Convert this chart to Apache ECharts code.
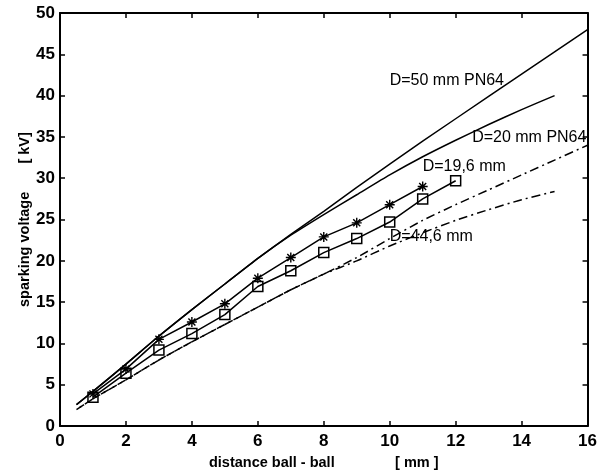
<!DOCTYPE html>
<html>
<head>
<meta charset="utf-8">
<script src="https://cdn.jsdelivr.net/npm/echarts@6/dist/echarts.min.js"></script>
<style>
  html, body { margin: 0; padding: 0; background: #fff; }
  #chart { width: 600px; height: 475px; }
</style>
</head>
<body>
<div id="chart"></div>
<script>
// Sparking voltage of ball gaps versus gap distance
const xTicks = [0, 2, 4, 6, 8, 10, 12, 14, 16];
const yTicks = [0, 5, 10, 15, 20, 25, 30, 35, 40, 45, 50];

// Standard curves (PN64)
const pnDist = [0.5, 1, 2, 3, 4, 5, 6, 7, 8, 9, 10, 11, 12, 13, 14, 15, 16];
const d50 = [2.6, 4.2, 7.5, 10.9, 14.1, 17.2, 20.3, 23.2, 26.0, 28.9, 31.7, 34.5, 37.2, 39.9, 42.6, 45.3, 48.0];
const d20Dist = [0.5, 1, 2, 3, 4, 5, 6, 7, 8, 9, 10, 11, 12, 13, 14, 15];
const d20 = [2.6, 4.2, 7.5, 10.9, 14.1, 17.2, 20.3, 23.1, 25.6, 28.0, 30.4, 32.6, 34.6, 36.5, 38.3, 40.0];

// Computed curves for the two electrode sizes
const calcUpperDist = [0.5, 1, 2, 3, 4, 5, 6, 7, 8, 9, 10, 11, 12, 13, 14, 15, 16];
const calcUpper = [2.0, 3.3, 5.6, 8.0, 10.2, 12.3, 14.4, 16.5, 18.4, 20.4, 22.7, 24.9, 26.8, 28.6, 30.4, 32.2, 34.0];
const calcLowerDist = [0.5, 1, 2, 3, 4, 5, 6, 7, 8, 9, 10, 11, 12, 13, 14, 15];
const calcLower = [2.0, 3.3, 5.6, 8.0, 10.2, 12.3, 14.4, 16.5, 18.4, 20.0, 21.8, 23.4, 24.9, 26.2, 27.4, 28.4];

// Measured points
const starDist = [1, 2, 3, 4, 5, 6, 7, 8, 9, 10, 11];
const starVolt = [3.9, 6.9, 10.5, 12.6, 14.8, 17.9, 20.4, 22.9, 24.6, 26.8, 29.0];
const squareDist = [1, 2, 3, 4, 5, 6, 7, 8, 9, 10, 11, 12];
const squareVolt = [3.5, 6.4, 9.2, 11.2, 13.5, 16.9, 18.8, 21.0, 22.7, 24.7, 27.5, 29.7];

// Curve captions: [text, distance, voltage]
const captions = [
  ['D=50 mm PN64', 10.0, 41.8],
  ['D=20 mm PN64', 12.5, 34.9],
  ['D=19,6 mm', 11.0, 31.4],
  ['D=44,6 mm', 10.0, 22.9]
];

const pairs = (xs, ys) => xs.map((x, i) => [x, ys[i]]);

const tickFont = { fontFamily: 'Liberation Sans, Arial, sans-serif', fontWeight: 'bold', fontSize: 17, color: '#000' };
const nameFont = { fontFamily: 'Liberation Sans, Arial, sans-serif', fontWeight: 'bold', fontSize: 14.5, color: '#000' };
const axisLine = { show: true, onZero: false, lineStyle: { color: '#000', width: 2 } };
const tick = { show: true, inside: true, length: 5, lineStyle: { color: '#000', width: 1.5 } };

const starPath = 'path://M5,0L5,10M0,5L10,5M1.5,1.5L8.5,8.5M8.5,1.5L1.5,8.5';

function captionPoint(c) {
  return {
    coord: [c[1], c[2]],
    name: c[0],
    symbol: 'circle',
    symbolSize: 0,
    label: {
      show: true,
      position: 'right',
      distance: 0,
      formatter: '{b}',
      fontFamily: 'Liberation Sans, Arial, sans-serif',
      fontSize: 16,
      color: '#000'
    }
  };
}

const chart = echarts.init(document.getElementById('chart'), null, { renderer: 'canvas' });

chart.setOption({
  animation: false,
  backgroundColor: '#fff',
  grid: { left: 60, right: 11, top: 13, bottom: 44, containLabel: false },
  xAxis: [
    {
      type: 'value', min: xTicks[0], max: xTicks[xTicks.length - 1], interval: xTicks[1] - xTicks[0],
      position: 'bottom',
      axisLine, axisTick: tick, splitLine: { show: false },
      axisLabel: Object.assign({ margin: 7 }, tickFont),
      name: 'distance ball - ball               [ mm ]',
      nameLocation: 'middle', nameGap: 27,
      nameTextStyle: nameFont
    },
    {
      type: 'value', min: xTicks[0], max: xTicks[xTicks.length - 1], interval: xTicks[1] - xTicks[0],
      position: 'top',
      axisLine, axisTick: tick, splitLine: { show: false },
      axisLabel: { show: false }
    }
  ],
  yAxis: [
    {
      type: 'value', min: yTicks[0], max: yTicks[yTicks.length - 1], interval: yTicks[1] - yTicks[0],
      position: 'left',
      axisLine, axisTick: tick, splitLine: { show: false },
      axisLabel: Object.assign({ margin: 5 }, tickFont),
      name: 'sparking voltage       [ kV]',
      nameLocation: 'middle', nameGap: 28, nameMoveOverlap: false,
      nameTextStyle: nameFont
    },
    {
      type: 'value', min: yTicks[0], max: yTicks[yTicks.length - 1], interval: yTicks[1] - yTicks[0],
      position: 'right',
      axisLine, axisTick: tick, splitLine: { show: false },
      axisLabel: { show: false }
    }
  ],
  series: [
    {
      name: 'D=50 mm PN64', type: 'line', showSymbol: false,
      data: pairs(pnDist, d50),
      lineStyle: { color: '#000', width: 1.5 },
      markPoint: { silent: true, data: [captionPoint(captions[0])] }
    },
    {
      name: 'D=20 mm PN64', type: 'line', smooth: 0.2, showSymbol: false,
      data: pairs(d20Dist, d20),
      lineStyle: { color: '#000', width: 1.5 },
      markPoint: { silent: true, data: [captionPoint(captions[1])] }
    },
    {
      name: 'D=19,6 mm computed', type: 'line', smooth: 0.2, showSymbol: false,
      data: pairs(calcUpperDist, calcUpper),
      lineStyle: { color: '#000', width: 1.5, type: [9, 4, 2, 4], dashOffset: 0 }
    },
    {
      name: 'D=44,6 mm computed', type: 'line', smooth: 0.2, showSymbol: false,
      data: pairs(calcLowerDist, calcLower),
      lineStyle: { color: '#000', width: 1.5, type: [9, 4, 2, 4], dashOffset: 9 }
    },
    {
      name: 'D=19,6 mm measured', type: 'line', symbol: starPath, symbolSize: 10,
      data: pairs(starDist, starVolt),
      lineStyle: { color: '#000', width: 1.5 },
      itemStyle: { color: 'transparent', borderColor: '#000', borderWidth: 1.4 },
      markPoint: { silent: true, data: [captionPoint(captions[2])] }
    },
    {
      name: 'D=44,6 mm measured', type: 'line', symbol: 'rect', symbolSize: 10,
      data: pairs(squareDist, squareVolt),
      lineStyle: { color: '#000', width: 1.5 },
      itemStyle: { color: 'transparent', borderColor: '#000', borderWidth: 1.5 },
      markPoint: { silent: true, data: [captionPoint(captions[3])] }
    }
  ]
});
</script>
</body>
</html>
